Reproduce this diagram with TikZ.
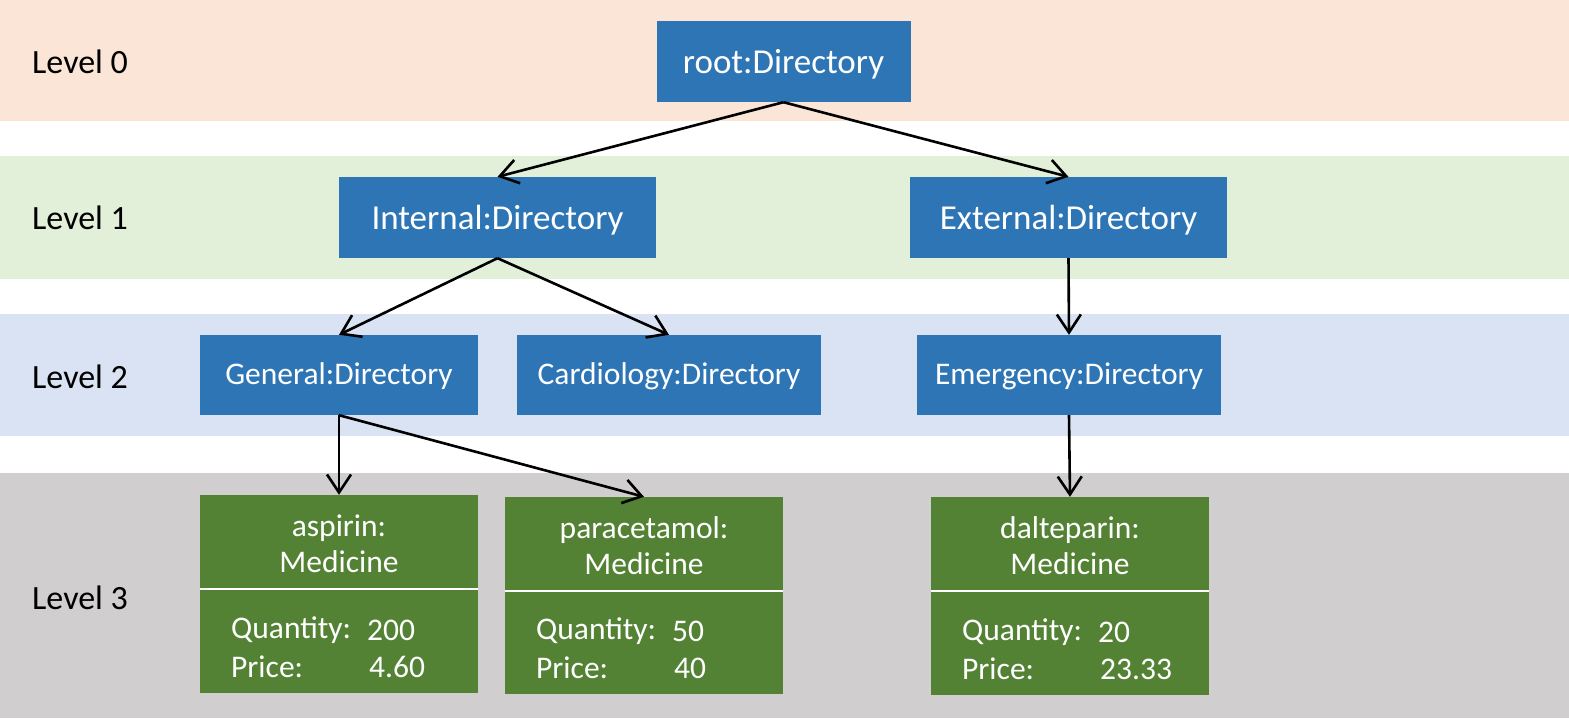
\documentclass[tikz,border=0pt]{standalone}
\usepackage{fontspec}
\setmainfont{Carlito}
\usetikzlibrary{arrows.meta}
\definecolor{bandA}{HTML}{FBE5D6}
\definecolor{bandB}{HTML}{E2F0D9}
\definecolor{bandC}{HTML}{DAE3F3}
\definecolor{bandD}{HTML}{D0CECE}
\definecolor{dirblue}{HTML}{2E75B6}
\definecolor{medgreen}{HTML}{548235}
\tikzset{
  band/.style={fill=#1, draw=none},
  lvl/.style={anchor=west, font=\fontsize{34}{40}\selectfont, text=black, inner sep=0pt},
  bigdir/.style={fill=dirblue, draw=none, text=white, inner sep=0pt, text depth=0pt, font=\fontsize{35}{40}\selectfont},
  smalldir/.style={fill=dirblue, draw=none, text=white, inner sep=0pt, text depth=2pt, font=\fontsize{31.5}{36}\selectfont},
  medbox/.style={fill=medgreen, draw=none, inner sep=0pt, minimum width=278pt},
  medtitle/.style={text=white, align=center, inner sep=0pt, font=\fontsize{31.5}{36}\selectfont},
  medtext/.style={text=white, anchor=west, inner sep=0pt, font=\fontsize{31.5}{36}\selectfont},
  divider/.style={draw=white, line width=2pt},
  conn/.style={draw=black, line width=2.6pt, -{Straight Barb[length=18pt,width=24pt,line width=2.6pt]}},
}
\begin{document}
\begin{tikzpicture}[x=1pt,y=-1pt]
\useasboundingbox (0,0) rectangle (1569,718);
\fill[white] (0,0) rectangle (1569,718);
% bands
\path[band=bandA] (0,0) rectangle (1569,121);
\path[band=bandB] (0,156) rectangle (1569,279);
\path[band=bandC] (0,314) rectangle (1569,436);
\path[band=bandD] (0,473) rectangle (1569,718);
% level labels
\node[lvl] (l0) at (32,62) {Level 0};
\node[lvl] (l1) at (32,218) {Level 1};
\node[lvl] (l2) at (32,377) {Level 2};
\node[lvl] (l3) at (32,598) {Level 3};
% directories
\node[bigdir, minimum width=254pt, minimum height=81pt] (root) at (783.5,61.5) {root:Directory};
\node[bigdir, minimum width=317pt, minimum height=81pt] (internal) at (497.5,217.5) {Internal:Directory};
\node[bigdir, minimum width=317pt, minimum height=81pt] (external) at (1068.5,217.5) {External:Directory};
\node[smalldir, minimum width=278pt, minimum height=80pt] (general) at (339,375) {General:Directory};
\node[smalldir, minimum width=304pt, minimum height=80pt] (cardio) at (669,375) {Cardiology:Directory};
\node[smalldir, minimum width=304pt, minimum height=80pt] (emerg) at (1069,375) {Emergency:Directory};
% medicines
\node[medbox, minimum height=198pt] (asp) at (339,594) {};
\node[medbox, minimum height=197pt] (para) at (644,595.5) {};
\node[medbox, minimum height=198pt] (dalt) at (1070,596) {};
\draw[divider] ([yshift=-94pt]asp.north west) -- ([yshift=-94pt]asp.north east);
\draw[divider] ([yshift=-94pt]para.north west) -- ([yshift=-94pt]para.north east);
\draw[divider] ([yshift=-94pt]dalt.north west) -- ([yshift=-94pt]dalt.north east);
\node[medtitle] (aspt) at (339,544) {aspirin:\\Medicine};
\node[medtitle] (parat) at (644,546) {paracetamol:\\Medicine};
\node[medtitle] (daltt) at (1070,546) {dalteparin:\\Medicine};
\node[medtext] (aspq) at (231,630) {Quantity:};
\node[medtext] (aspqv) at (367,630) {200};
\node[medtext] (aspp) at (231,667) {Price:};
\node[medtext] (asppv) at (369,667) {4.60};
\node[medtext] (paraq) at (536,631) {Quantity:};
\node[medtext] (paraqv) at (672,631) {50};
\node[medtext] (parap) at (536,668) {Price:};
\node[medtext] (parapv) at (674,668) {40};
\node[medtext] (daltq) at (962,632) {Quantity:};
\node[medtext] (daltqv) at (1098,632) {20};
\node[medtext] (daltp) at (962,669) {Price:};
\node[medtext] (daltpv) at (1100,669) {23.33};
% connectors
\draw[conn] (root.south) -- (internal.north);
\draw[conn] (root.south) -- (external.north);
\draw[conn] (internal.south) -- (general.north);
\draw[conn] (internal.south) -- (cardio.north);
\draw[conn] (external.south) -- (emerg.north);
\draw[conn] (general.south) -- (asp.north);
\draw[conn] (general.south) -- (para.north);
\draw[conn] (emerg.south) -- (dalt.north);
\end{tikzpicture}
\end{document}
